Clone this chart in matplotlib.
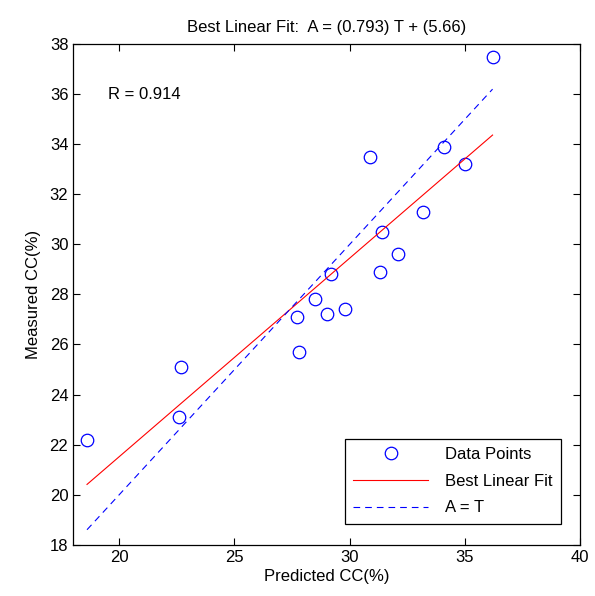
import numpy as np
import matplotlib.pyplot as plt

plt.rcParams['font.family'] = ['Liberation Sans', 'DejaVu Sans']

# data
predicted = [18.6, 22.6, 22.7, 27.7, 27.8, 28.5, 29.0, 29.2, 29.8,
             31.3, 31.4, 32.1, 33.2, 30.9, 34.1, 35.0, 36.2]
measured = [22.2, 23.1, 25.1, 27.1, 25.7, 27.8, 27.2, 28.8, 27.4,
            28.9, 30.5, 29.6, 31.3, 33.5, 33.9, 33.2, 37.5]
slope = 0.793
intercept = 5.66
r_value = 0.914

T = np.array(predicted)
A = np.array(measured)
t_line = np.array([T.min(), T.max()])

fig = plt.figure(figsize=(5.95, 5.96), dpi=100)
ax = fig.add_axes([0.123, 0.086, 0.852, 0.840])

ax.plot(T, A, 'o', mfc='none', mec='b', ms=9, mew=0.9, label='Data Points')
ax.plot(t_line, slope * t_line + intercept, 'r-', lw=0.8, label='Best Linear Fit')
ax.plot(t_line, t_line, 'b--', lw=0.8, dashes=(6, 4.5), label='A = T')

ax.set_xlim(18, 40)
ax.set_ylim(18, 38)
ax.set_xticks([20, 25, 30, 35, 40])
ax.set_yticks(range(18, 39, 2))
ax.tick_params(direction='in', top=True, right=True, labelsize=12, length=5, width=0.8)
for s in ax.spines.values():
    s.set_linewidth(0.9)

ax.set_xlabel('Predicted CC(%)', fontsize=12, labelpad=3)
ax.set_ylabel('Measured CC(%)', fontsize=12, labelpad=6)
ax.set_title('Best Linear Fit:  A = (%.3f) T + (%.2f)' % (slope, intercept), fontsize=12, pad=9)
ax.text(19.5, 36, 'R = %.3f' % r_value, fontsize=12, va='center')

leg = ax.legend(loc='lower right', bbox_to_anchor=(0.962, 0.042), fontsize=12,
                fancybox=False, edgecolor='black', framealpha=1, handlelength=4.5,
                handletextpad=1.0, borderpad=0.5, labelspacing=0.7, borderaxespad=0)
leg.get_frame().set_linewidth(0.9)

fig.savefig('out.png', dpi=100)
